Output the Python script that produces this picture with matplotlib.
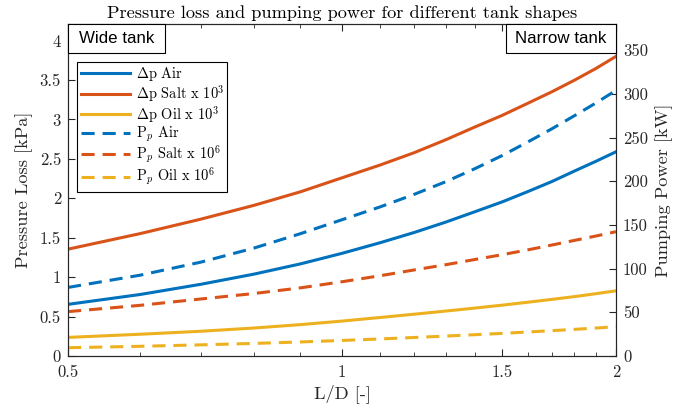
import matplotlib
matplotlib.use("Agg")
import matplotlib.pyplot as plt
from matplotlib.ticker import FixedLocator, FixedFormatter, NullFormatter
from matplotlib.patches import Rectangle

plt.rcParams['font.family'] = 'serif'
plt.rcParams['font.serif'] = ['cmr10']
plt.rcParams['mathtext.fontset'] = 'cm'
plt.rcParams['axes.unicode_minus'] = False

# L/D ratios
ld = [0.5, 0.6, 0.7, 0.8, 0.9, 1.0, 1.1, 1.2, 1.3, 1.4, 1.5, 1.6, 1.7, 1.8, 1.9, 2.0]

# pressure loss [kPa] (left axis)
dp_air = [0.655, 0.78, 0.91, 1.038, 1.168, 1.302, 1.435, 1.566, 1.698, 1.83,
          1.955, 2.085, 2.212, 2.345, 2.468, 2.59]
dp_salt = [1.355, 1.552, 1.736, 1.91, 2.082, 2.26, 2.42, 2.578, 2.742, 2.905,
           3.052, 3.205, 3.35, 3.497, 3.645, 3.80]
dp_oil = [0.236, 0.276, 0.314, 0.355, 0.398, 0.443, 0.488, 0.53, 0.57, 0.608,
          0.645, 0.682, 0.718, 0.753, 0.79, 0.827]

# pumping power [kW] (right axis)
pp_air = [78.5, 92.5, 107.5, 123.5, 140, 156, 170.5, 185, 199.5, 214.5,
          229.5, 245, 260, 275, 289.5, 304]
pp_salt = [50.8, 58, 65.3, 71.5, 78, 85, 91.8, 98.5, 104.5, 110.5,
           116, 121.5, 127, 132.3, 137.3, 142.3]
pp_oil = [9.5, 11.1, 12.8, 14.4, 16.1, 17.8, 19.5, 21.2, 22.8, 24.4,
          25.9, 27.5, 29.0, 30.5, 32.0, 33.5]

labels_dp = [r'$\Delta$p Air', r'$\Delta$p Salt x 10$^3$', r'$\Delta$p Oil x 10$^3$']
labels_pp = [r'P$_p$ Air', r'P$_p$ Salt x 10$^6$', r'P$_p$ Oil x 10$^6$']

x_major = [0.5, 1, 1.5, 2]
x_major_labels = ['0.5', '1', '1.5', '2']
x_minor = [0.6, 0.7, 0.8, 0.9, 1.1, 1.2, 1.3, 1.4, 1.6, 1.7, 1.8, 1.9]
y_left_ticks = [0, 0.5, 1, 1.5, 2, 2.5, 3, 3.5, 4]
y_left_labels = ['0', '0.5', '1', '1.5', '2', '2.5', '3', '3.5', '4']
y_right_ticks = [0, 50, 100, 150, 200, 250, 300, 350]
y_right_labels = ['0', '50', '100', '150', '200', '250', '300', '350']

c_blue = '#0072BD'
c_red = '#D95319'
c_yel = '#EDB120'
ax_col = '#262626'
lw = 2.2
dash = (4.3, 2.6)

fig = plt.figure(figsize=(6.97, 4.12), dpi=100)
ax = fig.add_axes([0.0976, 0.1359, 0.7862, 0.8058])
ax2 = ax.twinx()

h1, = ax.plot(ld, dp_air, color=c_blue, lw=lw)
h2, = ax.plot(ld, dp_salt, color=c_red, lw=lw)
h3, = ax.plot(ld, dp_oil, color=c_yel, lw=lw)
h4, = ax2.plot(ld, pp_air, color=c_blue, lw=lw, dashes=dash)
h5, = ax2.plot(ld, pp_salt, color=c_red, lw=lw, dashes=dash)
h6, = ax2.plot(ld, pp_oil, color=c_yel, lw=lw, dashes=dash)

ax.set_xscale('log')
ax.set_xlim(0.5, 2)
ax.xaxis.set_major_locator(FixedLocator(x_major))
ax.xaxis.set_major_formatter(FixedFormatter(x_major_labels))
ax.xaxis.set_minor_locator(FixedLocator(x_minor))
ax.xaxis.set_minor_formatter(NullFormatter())

ax.set_ylim(0, 4.21)
ax.set_yticks(y_left_ticks)
ax.set_yticklabels(y_left_labels)
ax2.set_ylim(0, 380)
ax2.set_yticks(y_right_ticks)
ax2.set_yticklabels(y_right_labels)

for a in (ax, ax2):
    for s in a.spines.values():
        s.set_color(ax_col)
        s.set_linewidth(0.8)

ax.tick_params(axis='x', which='both', direction='in', top=True, bottom=True,
               colors=ax_col, labelsize=12, pad=6)
ax.tick_params(axis='x', which='major', length=5, width=0.8)
ax.tick_params(axis='x', which='minor', length=3, width=0.6)
ax.tick_params(axis='y', direction='in', left=True, right=False, length=5,
               width=0.8, colors=ax_col, labelsize=12, pad=5)
ax2.tick_params(axis='y', direction='in', right=True, left=False, length=5,
                width=0.8, colors=ax_col, labelsize=12, pad=5)

ax.set_xlabel('L/D [-]', fontsize=13.2, color=ax_col, labelpad=3)
ax.set_ylabel('Pressure Loss [kPa]', fontsize=13.2, color=ax_col, labelpad=5)
ax2.set_ylabel('Pumping Power [kW]', fontsize=13.2, color=ax_col, labelpad=5)
ax.set_title('Pressure loss and pumping power for different tank shapes',
             fontsize=13.2, color='black', pad=4)

leg = ax2.legend([h1, h2, h3, h4, h5, h6], labels_dp + labels_pp,
                 loc='upper left', bbox_to_anchor=(0.017, 0.886),
                 borderaxespad=0, fontsize=10.4, handlelength=3.4,
                 handletextpad=0.42, labelspacing=0.0, borderpad=0.22,
                 fancybox=False, framealpha=1, edgecolor='black')
leg.get_frame().set_linewidth(0.8)

# labelled boxes at the two ends of the L/D range
for x0, w, txt in [(0.0, 0.177, 'Wide tank'), (0.799, 0.201, 'Narrow tank')]:
    ax2.add_patch(Rectangle((x0, 0.912), w, 0.088, transform=ax2.transAxes,
                            facecolor='white', edgecolor='black', lw=0.8,
                            zorder=5, clip_on=False))
    ax2.text(x0 + w / 2, 0.956, txt, transform=ax2.transAxes, ha='center',
             va='center', fontsize=12.2, family='Liberation Sans', zorder=6)

fig.savefig('out.png', dpi=100)
